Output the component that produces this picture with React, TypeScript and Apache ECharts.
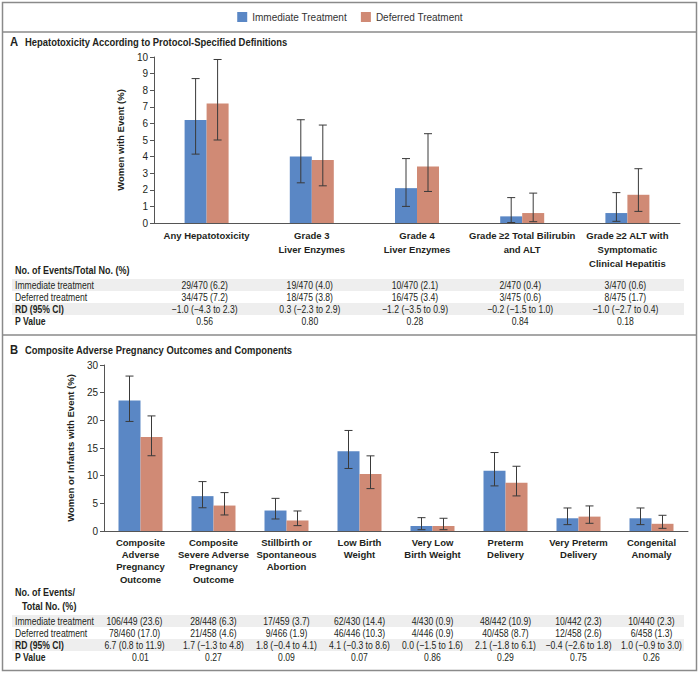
import React, { useEffect, useRef } from "react";
import * as echarts from "echarts";

const FONT = "'Liberation Sans', Arial, sans-serif";
const TXT = "#231f20";
const BLUE = "#5a87c5";
const RED = "#d08a75";
const SX = 0.82;

const seriesNames = ["Immediate Treatment", "Deferred Treatment"];
const rowLabels = ["Immediate treatment", "Deferred treatment", "RD (95% CI)", "P Value"];

// Panel A
const catsA = [
  "Any Hepatotoxicity",
  "Grade 3\nLiver Enzymes",
  "Grade 4\nLiver Enzymes",
  "Grade ≥2 Total Bilirubin\nand ALT",
  "Grade ≥2 ALT with\nSymptomatic\nClinical Hepatitis",
];
const immA = [6.2, 4.0, 2.1, 0.4, 0.6];
const immALow = [4.15, 2.42, 1.0, 0.03, 0.1];
const immAHigh = [8.7, 6.22, 3.88, 1.53, 1.83];
const defA = [7.2, 3.8, 3.4, 0.6, 1.7];
const defALow = [5.0, 2.24, 1.9, 0.08, 0.7];
const defAHigh = [9.85, 5.9, 5.38, 1.8, 3.27];
const immTextA = ["29/470 (6.2)", "19/470 (4.0)", "10/470 (2.1)", "2/470 (0.4)", "3/470 (0.6)"];
const defTextA = ["34/475 (7.2)", "18/475 (3.8)", "16/475 (3.4)", "3/475 (0.6)", "8/475 (1.7)"];
const rdA = ["−1.0 (−4.3 to 2.3)", "0.3 (−2.3 to 2.9)", "−1.2 (−3.5 to 0.9)", "−0.2 (−1.5 to 1.0)", "−1.0 (−2.7 to 0.4)"];
const pA = ["0.56", "0.80", "0.28", "0.84", "0.18"];

// Panel B
const catsB = [
  "Composite\nAdverse\nPregnancy\nOutcome",
  "Composite\nSevere Adverse\nPregnancy\nOutcome",
  "Stillbirth or\nSpontaneous\nAbortion",
  "Low Birth\nWeight",
  "Very Low\nBirth Weight",
  "Preterm\nDelivery",
  "Very Preterm\nDelivery",
  "Congenital\nAnomaly",
];
const immB = [23.6, 6.3, 3.7, 14.4, 0.9, 10.9, 2.3, 2.3];
const immBLow = [19.8, 4.2, 2.17, 11.3, 0.24, 8.15, 1.15, 1.15];
const immBHigh = [28.0, 8.93, 5.9, 18.17, 2.41, 14.18, 4.16, 4.16];
const defB = [17.0, 4.6, 1.9, 10.3, 0.9, 8.7, 2.6, 1.3];
const defBLow = [13.6, 2.9, 0.97, 7.66, 0.24, 6.34, 1.39, 0.48];
const defBHigh = [20.8, 6.94, 3.62, 13.58, 2.3, 11.7, 4.53, 2.84];
const immTextB = ["106/449 (23.6)", "28/448 (6.3)", "17/459 (3.7)", "62/430 (14.4)", "4/430 (0.9)", "48/442 (10.9)", "10/442 (2.3)", "10/440 (2.3)"];
const defTextB = ["78/460 (17.0)", "21/458 (4.6)", "9/466 (1.9)", "46/446 (10.3)", "4/446 (0.9)", "40/458 (8.7)", "12/458 (2.6)", "6/458 (1.3)"];
const rdB = ["6.7 (0.8 to 11.9)", "1.7 (−1.3 to 4.8)", "1.8 (−0.4 to 4.1)", "4.1 (−0.3 to 8.6)", "0.0 (−1.5 to 1.6)", "2.1 (−1.8 to 6.1)", "−0.4 (−2.6 to 1.8)", "1.0 (−0.9 to 3.0)"];
const pB = ["0.01", "0.27", "0.09", "0.07", "0.86", "0.29", "0.75", "0.26"];

const BAR_W = 22;

function errSeries(name: string, xi: number, lows: number[], highs: number[], offset: number) {
  return {
    type: "custom",
    name: name + " CI",
    xAxisIndex: xi,
    yAxisIndex: xi,
    z: 10,
    silent: true,
    data: lows.map((l, i) => [i, l, highs[i]]),
    encode: { x: 0, y: [1, 2] },
    renderItem: (params: any, api: any) => {
      const i = api.value(0);
      const lo = api.coord([i, api.value(1)]);
      const hi = api.coord([i, api.value(2)]);
      const x = lo[0] + offset;
      const cap = 4;
      const st = { stroke: "#3a3a3a", lineWidth: 1 };
      return {
        type: "group",
        children: [
          { type: "line", shape: { x1: x, y1: hi[1], x2: x, y2: lo[1] }, style: st },
          { type: "line", shape: { x1: x - cap, y1: hi[1], x2: x + cap, y2: hi[1] }, style: st },
          { type: "line", shape: { x1: x - cap, y1: lo[1], x2: x + cap, y2: lo[1] }, style: st },
        ],
      };
    },
  };
}

function txt(text: string, x: number, y: number, opts: any = {}) {
  return {
    type: "text",
    x,
    y,
    scaleX: opts.sx || SX,
    silent: true,
    style: {
      text,
      fontSize: opts.fontSize || 10.5,
      fontWeight: opts.bold ? "bold" : "normal",
      fontFamily: FONT,
      fill: TXT,
      textAlign: opts.align || "left",
      textVerticalAlign: "middle",
    },
  };
}

function band(x: number, y: number, w: number, h: number) {
  return { type: "rect", silent: true, z: -1, shape: { x, y, width: w, height: h }, style: { fill: "#eeeeee" } };
}

export default function App() {
  const ref = useRef<HTMLDivElement>(null);
  useEffect(() => {
    if (!ref.current) return;
    const chart = echarts.init(ref.current, undefined, { renderer: "svg" });
    const xAxisCommon = {
      type: "category",
      axisTick: { show: false },
      axisLine: { lineStyle: { color: "#555", width: 1 } },
      axisLabel: { interval: 0, fontFamily: FONT, fontWeight: "bold", fontSize: 9.5, color: TXT, margin: 5 },
    };
    const yAxisCommon = {
      type: "value",
      splitLine: { show: false },
      axisLine: { show: true, lineStyle: { color: "#555", width: 1 } },
      axisTick: { show: true, length: 4, lineStyle: { color: "#555" } },
      axisLabel: { fontFamily: FONT, fontSize: 10, color: TXT, margin: 6 },
      nameLocation: "middle",
      nameRotate: 90,
      nameTextStyle: { fontFamily: FONT, fontWeight: "bold", fontSize: 9.5, color: TXT },
    };
    const option: any = {
      animation: false,
      backgroundColor: "#fff",
      legend: {
        data: seriesNames,
        top: 7,
        left: "center",
        icon: "rect",
        itemWidth: 10,
        itemHeight: 10,
        itemGap: 14,
        textStyle: { fontFamily: FONT, fontSize: 10, color: "#333" },
      },
      grid: [
        { left: 154, top: 57, width: 526, height: 166 },
        { left: 104, top: 365, width: 584, height: 166 },
      ],
      xAxis: [
        { ...xAxisCommon, gridIndex: 0, data: catsA, axisLabel: { ...xAxisCommon.axisLabel, lineHeight: 14 } },
        { ...xAxisCommon, gridIndex: 1, data: catsB, axisLabel: { ...xAxisCommon.axisLabel, lineHeight: 12.3 } },
      ],
      yAxis: [
        { ...yAxisCommon, gridIndex: 0, min: 0, max: 10, interval: 1, name: "Women with Event (%)", nameGap: 27 },
        { ...yAxisCommon, gridIndex: 1, min: 0, max: 30, interval: 5, name: "Women or Infants with Event (%)", nameGap: 24 },
      ],
      series: [
        { type: "bar", name: seriesNames[0], xAxisIndex: 0, yAxisIndex: 0, data: immA, barWidth: BAR_W, barGap: "0%", itemStyle: { color: BLUE } },
        { type: "bar", name: seriesNames[1], xAxisIndex: 0, yAxisIndex: 0, data: defA, barWidth: BAR_W, barGap: "0%", itemStyle: { color: RED } },
        { type: "bar", name: seriesNames[0], xAxisIndex: 1, yAxisIndex: 1, data: immB, barWidth: BAR_W, barGap: "0%", itemStyle: { color: BLUE } },
        { type: "bar", name: seriesNames[1], xAxisIndex: 1, yAxisIndex: 1, data: defB, barWidth: BAR_W, barGap: "0%", itemStyle: { color: RED } },
        errSeries(seriesNames[0], 0, immALow, immAHigh, -BAR_W / 2),
        errSeries(seriesNames[1], 0, defALow, defAHigh, BAR_W / 2),
        errSeries(seriesNames[0], 1, immBLow, immBHigh, -BAR_W / 2),
        errSeries(seriesNames[1], 1, defBLow, defBHigh, BAR_W / 2),
      ],
    };
    chart.setOption(option);

    const colA = catsA.map((_, i) => chart.convertToPixel({ xAxisIndex: 0 }, i) as number);
    const colB = catsB.map((_, i) => chart.convertToPixel({ xAxisIndex: 1 }, i) as number);

    const g: any[] = [];
    // frame
    g.push({ type: "rect", silent: true, shape: { x: 2.5, y: 2.5, width: 694, height: 668 }, style: { fill: "none", stroke: "#8a8a8a", lineWidth: 1.5 } });
    g.push({ type: "line", silent: true, shape: { x1: 2.5, y1: 32, x2: 696.5, y2: 32 }, style: { stroke: "#8a8a8a", lineWidth: 1.5 } });
    g.push({ type: "line", silent: true, shape: { x1: 2.5, y1: 335, x2: 696.5, y2: 335 }, style: { stroke: "#8a8a8a", lineWidth: 1.5 } });
    // titles
    g.push(txt("A", 10, 42, { bold: true, fontSize: 12.5, sx: 0.9 }));
    g.push(txt("Hepatotoxicity According to Protocol-Specified Definitions", 25, 42, { bold: true, fontSize: 11.5 }));
    g.push(txt("B", 10, 350, { bold: true, fontSize: 12.5, sx: 0.9 }));
    g.push(txt("Composite Adverse Pregnancy Outcomes and Components", 25, 350, { bold: true, fontSize: 11.5 }));

    // Table A
    const rowsA = [285, 297, 309, 321];
    g.push(txt("No. of Events/Total No. (%)", 15, 270, { bold: true, fontSize: 11 }));
    g.push(band(12, rowsA[0] - 6, 672, 12));
    g.push(band(12, rowsA[2] - 6, 672, 12));
    rowLabels.forEach((l, r) => g.push(txt(l, 15, rowsA[r], { bold: r >= 2 })));
    [immTextA, defTextA, rdA, pA].forEach((arr, r) =>
      arr.forEach((s, i) => g.push(txt(s, colA[i] - 2, rowsA[r], { align: "center" })))
    );

    // Table B
    const rowsB = [621, 633, 645, 657];
    g.push(txt("No. of Events/", 15, 592, { bold: true, fontSize: 11 }));
    g.push(txt("Total No. (%)", 22, 606, { bold: true, fontSize: 11 }));
    g.push(band(12, rowsB[0] - 6, 672, 12));
    g.push(band(12, rowsB[2] - 6, 672, 12));
    rowLabels.forEach((l, r) => g.push(txt(l, 15, rowsB[r], { bold: r >= 2 })));
    [immTextB, defTextB, rdB, pB].forEach((arr, r) =>
      arr.forEach((s, i) => g.push(txt(s, colB[i] - (i === 0 && r < 3 ? 6 : 0), rowsB[r], { align: "center" })))
    );

    chart.setOption({ graphic: g });
    return () => chart.dispose();
  }, []);
  return <div ref={ref} style={{ width: 700, height: 675, position: "absolute", left: 0, top: 0 }} />;
}
